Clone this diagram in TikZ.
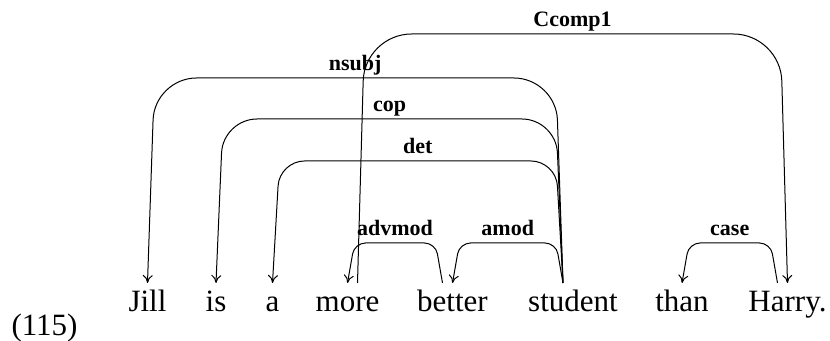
\documentclass[tikz,border=0pt]{standalone}
\usepackage{fontspec}
\setmainfont{Liberation Serif}
\usetikzlibrary{calc,arrows.meta}

\begin{document}
\begin{tikzpicture}[x=0.5pt,y=-0.5pt,line width=0.5pt,>={To[length=4pt,width=5pt]},
  word/.style={anchor=base,inner sep=0pt,font=\fontsize{15.5}{18}\selectfont},
  deplabel/.style={anchor=base,inner sep=0pt,yshift=3.75pt,font=\fontsize{11}{13}\selectfont\bfseries}]
  \useasboundingbox (0,0) rectangle (830,341);
  \node[word,anchor=base west] (num) at (11,336) {(115)};
  \foreach \n/\x/\w in
  {
    jill/147.5/Jill,
    is/216/is,
    a/272.5/a,
    more/347.5/more,
    better/452.5/better,
    student/573/student,
    than/682/than,
    harry/787.5/Harry.%
  }
  {
    \node[word] (\n) at (\x,312) {\w};
    \coordinate (\n-in) at ($(\n.base)+(0,-29)$);
    \coordinate (\n-l) at ($(\n.base)+(-10,-29)$);
    \coordinate (\n-r) at ($(\n.base)+(10,-29)$);
  }
  \foreach \a/\b/\t/\r/\s/\lab in
  {
    student-l/jill-in/78/21pt/-7/nsubj,
    student-l/is-in/119/17pt/-7/cop,
    student-l/a-in/161/12.5pt/-7/det,
    more-r/harry-in/34/23.5pt/7/Ccomp1,
    better-l/more-in/243/5.5pt/-7/advmod,
    student-l/better-in/243/5.5pt/-7/amod,
    harry-l/than-in/243/5.5pt/-7/case%
  }
  {
    \draw[->,rounded corners=\r] (\a) -- ($(\a |- 0,\t)+(\s,0)$)
      -- ($(\b |- 0,\t)-(\s,0)$) node[deplabel,midway]{\lab} -- (\b);
  }
\end{tikzpicture}
\end{document}
